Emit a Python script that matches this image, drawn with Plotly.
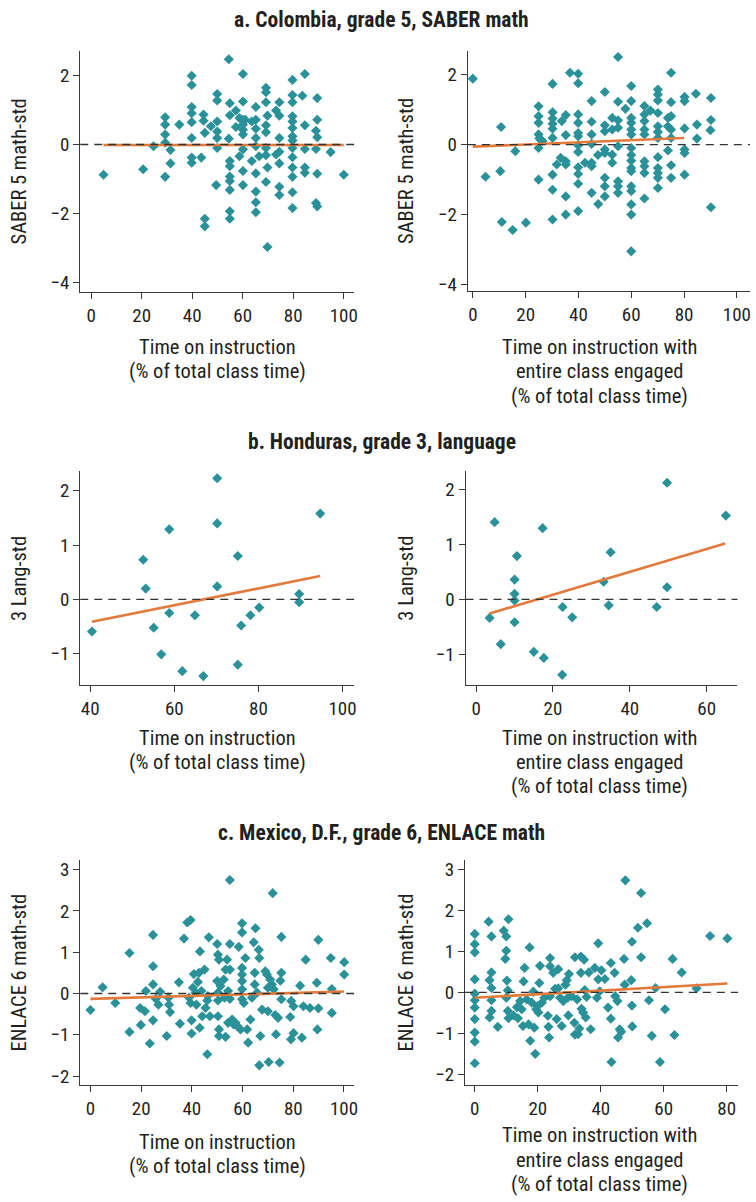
import plotly.graph_objects as go

# ---------------- data ----------------
titles = ["a. Colombia, grade 5, SABER math",
          "b. Honduras, grade 3, language",
          "c. Mexico, D.F., grade 6, ENLACE math"]
ytitles = ["SABER 5 math-std", "3 Lang-std", "ENLACE 6 math-std"]
xtitle_left = ["Time on instruction", "(% of total class time)"]
xtitle_right = ["Time on instruction with", "entire class engaged", "(% of total class time)"]

a1_pts = [(4.9,-0.88),(20.6,-0.72),(24.7,-0.05),(29.3,0.79),(29.3,0.58),(29.3,0.29),(29.3,0.05),(29.3,-0.94),
          (31.4,-0.16),(31.4,-0.55),(34.9,0.58),(39.8,2.0),(39.8,1.73),(39.8,1.09),(39.8,0.91),(39.8,0.65),
          (39.8,0.19),(39.8,-0.38),(39.8,-0.53),(43.6,-0.38),(44.5,0.87),(44.5,0.69),(45,0.34),(45,-2.16),
          (45,-2.38),(47.4,0.53),(49.9,1.47),(49.9,1.28),(49.9,0.67),(49.9,0.38),(49.9,0.19),(49.9,-0.1),
          (49.5,-1.18),(54.5,2.48),(54.9,1.2),(54.9,0.85),(54.5,0.17),(54.9,-0.48),(54.9,-0.63),(54.9,-0.93),
          (54.9,-1.06),(54.9,-1.32),(54.9,-1.94),(54.9,-2.16),(57.3,0.99),(57.3,0.51),(58.7,0.77),(58.7,-0.34),
          (60.1,2.05),(60.1,1.25),(60.1,0.72),(60.1,0.58),(60.1,0.43),(60.1,0.29),(60.1,-0.14),(60.1,-0.77),
          (60.1,-1.18),(61,0.72),(63.6,0.67),(63.6,-0.48),(65.2,1.09),(65.2,0.72),(65.2,0.46),(65.2,0.19),
          (65.2,-0.05),(65.2,-0.84),(65.2,-1.37),(65.2,-1.68),(65.2,-1.97),(66.5,-0.34),(69.2,1.65),(69.2,1.52),
          (69.2,1.23),(69.8,0.84),(69.2,0.56),(69.2,0.36),(69.2,-0.1),(69.2,-0.31),(69.2,-1.09),(69.8,-0.67),
          (69.8,-2.98),(73.2,0.99),(74.5,1.23),(74.5,0.84),(74.5,0.19),(74.5,-0.21),(74.5,-0.55),(74.5,-1.23),
          (74.5,-1.47),(73.2,-0.29),(79.7,1.88),(79.7,1.44),(79.7,1.23),(79.7,0.82),(79.7,0.67),(79.7,0.48),
          (79.7,0.24),(79.7,0.12),(79.7,-0.1),(79.7,-0.37),(79.7,-0.67),(79.7,-0.94),(79.7,-1.39),(79.7,-1.85),
          (83.6,1.42),(84.6,2.05),(84.6,0.56),(84.6,-0.13),(84.6,-0.67),(84.6,-0.82),(89.5,1.35),(89.5,0.72),
          (89,0.4),(89.5,0.21),(89,-0.13),(89.5,-0.85),(89,-1.7),(89.5,-1.8),(94.8,-0.22),(100,-0.88)]

a2_pts = [(0,1.88),(4.8,-0.92),(10.7,0.5),(10.4,-0.76),(11,-2.21),(15.1,-2.44),(16.1,-0.19),(20.1,-2.23),
          (24.9,1.09),(24.9,0.81),(24.9,0.62),(24.9,0.29),(25.2,0.17),(24.9,-0.1),(24.9,-1.0),(26.4,0.1),
          (30.2,1.73),(30.2,0.92),(30.2,0.74),(30.2,0.59),(30.2,0.45),(30.2,0.19),(30.2,-0.86),(30.2,-1.29),
          (30.2,-2.14),(31.8,-0.57),(33.3,-0.38),(33.7,0.67),(35.2,0.84),(35.2,0.27),(35.2,-0.48),(35.2,-0.57),
          (35.2,-1.48),(35.2,-2.0),(36.8,2.05),(39.9,2.02),(39.9,1.75),(39.9,0.86),(39.9,0.62),(39.9,0.33),
          (39.9,0.24),(39.9,-0.02),(39.9,-0.21),(39.9,-0.65),(39.9,-0.84),(39.9,-1.12),(39.9,-1.9),(42.5,-0.52),
          (45,1.24),(45,0.65),(45,0.29),(45,0.02),(45,-0.52),(45,-0.62),(45,-1.38),(47.4,-0.3),(47.5,-1.7),
          (50,1.5),(50,0.55),(50,0.38),(50,-0.14),(50,-0.24),(50,-0.95),(50,-1.19),(50,-1.48),(52.8,0.76),
          (52.8,0.43),(52.8,-0.29),(52.8,-0.52),(55,2.5),(55,1.22),(55,0.69),(55,0.48),(55,-0.05),(55,-1.05),
          (55,-1.19),(55,-1.38),(57.8,1.02),(60,1.67),(60,1.24),(60,0.76),(60,0.62),(60,0.43),(60,0.29),
          (60,-0.1),(60,-0.3),(60,-0.46),(60,-0.67),(60,-0.76),(60,-1.19),(60,-1.33),(60,-1.71),(60,-2.0),
          (60,-3.05),(65,1.1),(65,0.86),(65,0.67),(65,0.43),(65,0.29),(65,-0.48),(65,-0.62),(65,-0.81),
          (65,-1.54),(67.3,0.97),(70.1,1.57),(70.1,1.43),(70.1,1.26),(70.1,0.9),(70.1,0.52),(70.1,0.36),
          (70.1,0.19),(70.1,-0.36),(70.1,-0.67),(70.1,-0.81),(70.1,-0.95),(70.1,-1.24),(73.9,0.76),(73.9,0.52),
          (73.9,-0.17),(75.1,2.05),(75.1,1.21),(75.1,0.81),(75.1,0.43),(75.1,0.19),(75.1,-0.59),(75.1,-0.95),
          (80.2,1.36),(80.2,1.24),(80.2,0.46),(80.2,-0.14),(80.2,-0.24),(80.2,-0.86),(84.5,1.45),(84.9,0.57),
          (84.9,0.17),(90.2,1.33),(90.2,0.7),(90,0.41),(90.2,-1.79)]

b1_pts = [(40.4,-0.59),(52.6,0.73),(53.2,0.2),(55.1,-0.52),(56.9,-1.01),(58.8,1.29),(58.8,-0.25),(61.9,-1.32),
          (64.9,-0.29),(66.9,-1.41),(70.2,2.23),(70.2,1.4),(70.2,0.24),(75.1,0.8),(75.1,-1.2),(75.9,-0.48),
          (78.1,-0.29),(80.2,-0.15),(89.7,0.1),(89.7,-0.05),(94.7,1.58)]

b2_pts = [(3.5,-0.34),(4.8,1.41),(6.4,-0.82),(10,0.36),(10,0.1),(10,-0.02),(10,-0.42),(10.6,0.79),(15,-0.96),
          (17.3,1.3),(17.6,-1.07),(22.4,-1.38),(22.5,-0.14),(25,-0.33),(33.2,0.32),(35,0.86),(34.5,-0.11),
          (47,-0.14),(49.7,2.13),(49.7,0.22),(65,1.53)]

c1_pts = [(0,-0.4),(4.8,0.15),(9.8,-0.23),(15.4,0.98),(15.4,-0.93),(19.6,-0.35),(19.9,-0.76),(21.5,-0.43),
          (21.9,0.06),(23.4,-1.21),(24.7,1.42),(24.7,0.66),(24.7,0.22),(24.7,-0.65),(25.8,-0.13),(26.8,-0.27),
          (27.5,0.04),(30.1,-1.03),(30.8,-0.1),(31,-0.27),(31.4,-0.45),(34.9,0.27),(35.3,-0.73),(36.9,1.33),
          (38.2,1.72),(39.5,1.78),(38.9,-0.1),(39.5,-0.23),(39.9,-0.65),(39.9,-0.97),(40.4,0.14),(40.8,0.47),
          (41.5,0.02),(41.8,-0.27),(42.4,0.28),(42.8,0.5),(43.2,1.02),(43.1,-0.83),(43.8,0.06),(44.1,-0.55),
          (45,0.58),(45.4,-0.35),(46.1,-0.17),(46.3,-0.06),(46.1,-1.47),(46.7,1.36),(47.1,-0.55),(50,1.2),
          (50,0.3),(50.3,0.02),(50.3,-0.17),(50.3,-0.55),(50.3,0.94),(50.7,0.82),(50.7,-0.87),(50.7,-1.03),
          (51.3,0.18),(52.6,0.34),(52.9,-0.1),(53.3,-1.05),(53.3,0.58),(53.9,0.82),(54.3,0.06),(55,2.75),
          (55,1.2),(55,0.58),(55,-0.13),(54.3,-0.71),(55.9,-0.63),(56.5,-0.75),(57.2,-0.71),(57.9,-0.79),
          (58.5,1.13),(59.2,-0.87),(59.8,1.7),(59.8,1.48),(59.8,0.62),(59.8,0.46),(59.8,0.3),(59.8,0.1),
          (59.8,-0.14),(60.5,-0.23),(61.1,0.86),(61.8,-0.87),(62.2,-1.19),(63.1,-0.63),(63.7,-0.1),(64.4,1.24),
          (64.8,0.5),(64.8,0.22),(65.1,1.58),(65.7,0.02),(66.4,1.06),(66.6,0.86),(66.6,-1.74),(67,-1.03),
          (67.7,-0.39),(69,0.54),(69.6,0.46),(70,0.14),(70.3,-1.66),(70,-0.43),(70.9,0.34),(71.6,0.22),
          (71.9,2.43),(72.3,0.1),(72.9,-0.52),(73.2,-0.99),(74,-0.59),(74.6,-1.67),(74.9,0.31),(75.3,0.5),
          (75.3,1.37),(75.3,-0.14),(78.8,-0.57),(79.1,-1.11),(79.2,-0.18),(80.1,-0.31),(80.1,-0.96),(82.7,0.19),
          (83.4,-1.07),(84,-0.31),(84.9,0.82),(86.6,-0.35),(89.3,0.26),(89.5,-0.87),(89.9,1.3),(89.9,-0.36),
          (94.8,0.86),(95.2,0.11),(95.2,-0.47),(100.1,0.76),(100.1,0.46)]

c2_pts = [(0,1.43),(0,1.18),(0,0.98),(0,0.32),(0,-0.03),(0,-0.19),(0,-0.37),(0,-0.65),(0,-0.98),(0,-1.2),
          (0,-1.73),(4.4,1.73),(5.3,1.37),(5.3,0.49),(4.7,0.3),(5.3,0.11),(5.3,-0.19),(5.3,-0.45),(4.7,-0.61),
          (7.3,-0.84),(9.2,1.51),(10,1.37),(10,1.02),(9.7,0.82),(10.2,0.29),(10,-0.13),(10.5,0.05),(10.7,1.79),
          (10.5,-0.45),(10.7,-0.63),(12.3,-0.56),(13.4,-0.36),(13.7,-0.63),(14.4,-0.21),(14.9,-0.41),(15.3,-0.82),
          (15.5,0.27),(15.8,0.6),(16.5,-0.17),(17.1,-0.78),(17.4,1.1),(17.6,-1.18),(18.1,-0.25),(18.6,0.02),
          (18.9,-0.86),(19.2,-1.5),(19.5,-0.41),(19.9,-0.33),(20.2,-0.49),(20.5,0.23),(20.7,0.65),(21.3,-0.25),
          (22.1,-0.13),(23.2,-0.57),(23.4,-0.84),(23.6,-1.1),(23.9,0.84),(23.9,0.64),(23.9,-0.09),(24.9,0.48),
          (25.5,0.09),(26,-0.65),(26.5,0.57),(26.5,0.1),(27.1,-0.13),(27.6,-0.82),(28.1,-0.21),(28.8,0.19),
          (29.2,0.3),(29.5,-0.13),(29.7,-0.56),(29.9,0.45),(30.7,-0.09),(31.6,-0.74),(31.8,0.86),(31.8,-1.03),
          (32.5,-0.17),(32.8,-1.02),(33.2,-0.88),(33.7,0.88),(33.7,0.48),(33.9,-0.4),(34.4,-0.49),(34.7,0.8),
          (34.9,0.06),(35.2,-0.61),(35.5,-0.11),(36.2,0.49),(36.8,-0.9),(38.1,0.6),(38.8,-0.13),(39.2,1.2),
          (39.2,0.32),(39.7,0.03),(40.2,0.54),(41.3,0.33),(42.3,-0.37),(43.2,0.72),(43.2,-0.64),(43.4,-1.7),
          (44.4,0.48),(44.6,-0.09),(45.3,-0.21),(45.5,-1.1),(46,-0.9),(46.5,-0.96),(47.4,0.82),(47.6,0.19),
          (47.8,2.74),(49.7,0.3),(49.9,1.24),(49.9,-0.32),(50,-0.83),(51.8,1.58),(52.8,2.43),(52.8,0.86),
          (54.7,1.69),(55.3,-0.19),(56.2,-1.06),(57.4,0.11),(58.8,-1.7),(60.4,-0.41),(62.8,0.82),(63.4,-1.04),
          (65.7,0.49),(70.4,0.1),(74.7,1.38),(80.2,1.32)]

# fitted regression lines: (x start, x end, intercept, slope)
fit_a1 = (4.9, 100.0, -0.015, 0.0)
fit_a2 = (0.0, 80.0, -0.06, 0.0031)
fit_b1 = (40.4, 94.7, -1.035, 0.01547)
fit_b2 = (3.5, 64.8, -0.333, 0.02088)
fit_c1 = (0.0, 100.0, -0.13, 0.0018)
fit_c2 = (0.0, 80.2, -0.13, 0.00436)

# ---------------- styling / layout ----------------
FONT = "Liberation Sans Narrow, Arial Narrow, Roboto Condensed, Liberation Sans, sans-serif"
TEXT = "#231f20"
TEAL = "#2a9199"
ORANGE = "#e27a3b"
AX = "#3a3a3a"
W, H = 756, 1202
FS_TICK, FS_AX, FS_TITLE = 19, 20.5, 21.5


def xp(px):
    return px / W


def yp(py):
    return 1 - py / H


panels = [
    # pts, fit, xdom(px), ydom(px top,bottom), xrange, yrange, xticks, yticks, ytitle idx, side, xtitle line y(px)
    (a1_pts, fit_a1, (80.7, 356), (49.3, 291.7), (-4.3, 104.1), (-4.29, 2.72), [0, 20, 40, 60, 80, 100], [-4, -2, 0, 2], 0, "L", 347),
    (a2_pts, fit_a2, (470.3, 754), (49.3, 291.0), (-1.9, 105.0), (-4.19, 2.67), [0, 20, 40, 60, 80, 100], [-4, -2, 0, 2], 0, "R", 347),
    (b1_pts, fit_b1, (80.7, 356), (471.7, 687.3), (37.63, 102.77), (-1.58, 2.365), [40, 60, 80, 100], [-1, 0, 1, 2], 1, "L", 740),
    (b2_pts, fit_b2, (468.0, 741.3), (471.7, 686.7), (-2.77, 68.0), (-1.56, 2.345), [0, 20, 40, 60], [-1, 0, 1, 2], 1, "R", 740),
    (c1_pts, fit_c1, (80.7, 356), (863.3, 1089.3), (-4.0, 104.0), (-2.215, 3.227), [0, 20, 40, 60, 80, 100], [-2, -1, 0, 1, 2, 3], 2, "L", 1146.5),
    (c2_pts, fit_c2, (467.3, 742.0), (863.3, 1089.3), (-3.16, 83.6), (-2.26, 3.23), [0, 20, 40, 60, 80], [-2, -1, 0, 1, 2, 3], 2, "R", 1140),
]

fig = go.Figure()
annotations = []
shapes = []
layout = {}

for i, (pts, fit, xd, yd, xr, yr, xt, yt, ti, side, xty) in enumerate(panels):
    n = i + 1
    xa = "x" if n == 1 else f"x{n}"
    ya = "y" if n == 1 else f"y{n}"
    xs = [p[0] for p in pts]
    ys = [p[1] for p in pts]
    fig.add_trace(go.Scatter(x=xs, y=ys, mode="markers", xaxis=xa, yaxis=ya,
                             marker=dict(symbol="diamond", size=7.8, color=TEAL, line=dict(width=0)),
                             showlegend=False, hoverinfo="x+y"))
    x0, x1, b0, b1 = fit
    fig.add_trace(go.Scatter(x=[x0, x1], y=[b0 + b1 * x0, b0 + b1 * x1], mode="lines",
                             xaxis=xa, yaxis=ya, line=dict(color=ORANGE, width=2.6),
                             showlegend=False, hoverinfo="skip"))
    common = dict(showline=True, linecolor=AX, linewidth=1, ticks="outside", ticklen=6,
                  tickwidth=1, tickcolor=AX, showgrid=False, zeroline=False,
                  tickfont=dict(family=FONT, size=FS_TICK, color=TEXT), fixedrange=True,
                  ticklabeloverflow="allow")
    xkey = "xaxis" if n == 1 else f"xaxis{n}"
    ykey = "yaxis" if n == 1 else f"yaxis{n}"
    layout[xkey] = dict(common, domain=[xp(xd[0]), xp(xd[1])], range=list(xr), tickvals=xt,
                        anchor=ya)
    layout[ykey] = dict(common, domain=[yp(yd[1]), yp(yd[0])], range=list(yr), tickvals=yt,
                        anchor=xa)
    # dashed zero reference line
    shapes.append(dict(type="line", xref=f"{xa} domain", yref=ya, x0=0, x1=1, y0=0, y1=0,
                       line=dict(color="#333333", width=1.3, dash="8px,6px"), layer="above"))
    # y-axis title
    ytx = 19 if side == "L" else 408
    annotations.append(dict(text=ytitles[ti], xref="paper", yref="paper",
                            x=xp(ytx), y=yp((yd[0] + yd[1]) / 2), textangle=-90,
                            showarrow=False, xanchor="center", yanchor="middle",
                            font=dict(family=FONT, size=FS_AX, color=TEXT)))
    # x-axis title, one annotation per line
    lines = xtitle_left if side == "L" else xtitle_right
    xtx = (xd[0] + xd[1]) / 2 if side == "L" else 603
    for k, line in enumerate(lines):
        annotations.append(dict(text=line, xref="paper", yref="paper", x=xp(xtx), y=yp(xty + 24.5 * k),
                                showarrow=False, xanchor="center", yanchor="middle",
                                font=dict(family=FONT, size=FS_AX, color=TEXT)))

# panel titles
for t, ypx in zip(titles, [18, 442, 835]):
    annotations.append(dict(text=f"<b>{t}</b>", xref="paper", yref="paper", x=xp(384), y=yp(ypx),
                            showarrow=False, xanchor="center", yanchor="middle",
                            font=dict(family=FONT, size=FS_TITLE, color=TEXT)))

fig.update_layout(width=W, height=H, margin=dict(l=0, r=0, t=0, b=0),
                  paper_bgcolor="white", plot_bgcolor="white", showlegend=False,
                  annotations=annotations, shapes=shapes, font=dict(family=FONT, color=TEXT),
                  **layout)

# remove the browser's default 8px page margin so the figure fills the window exactly
fig.write_html("out.html", config={"displayModeBar": False},
               post_script="document.body.style.margin='0px';document.body.style.overflow='hidden';")
